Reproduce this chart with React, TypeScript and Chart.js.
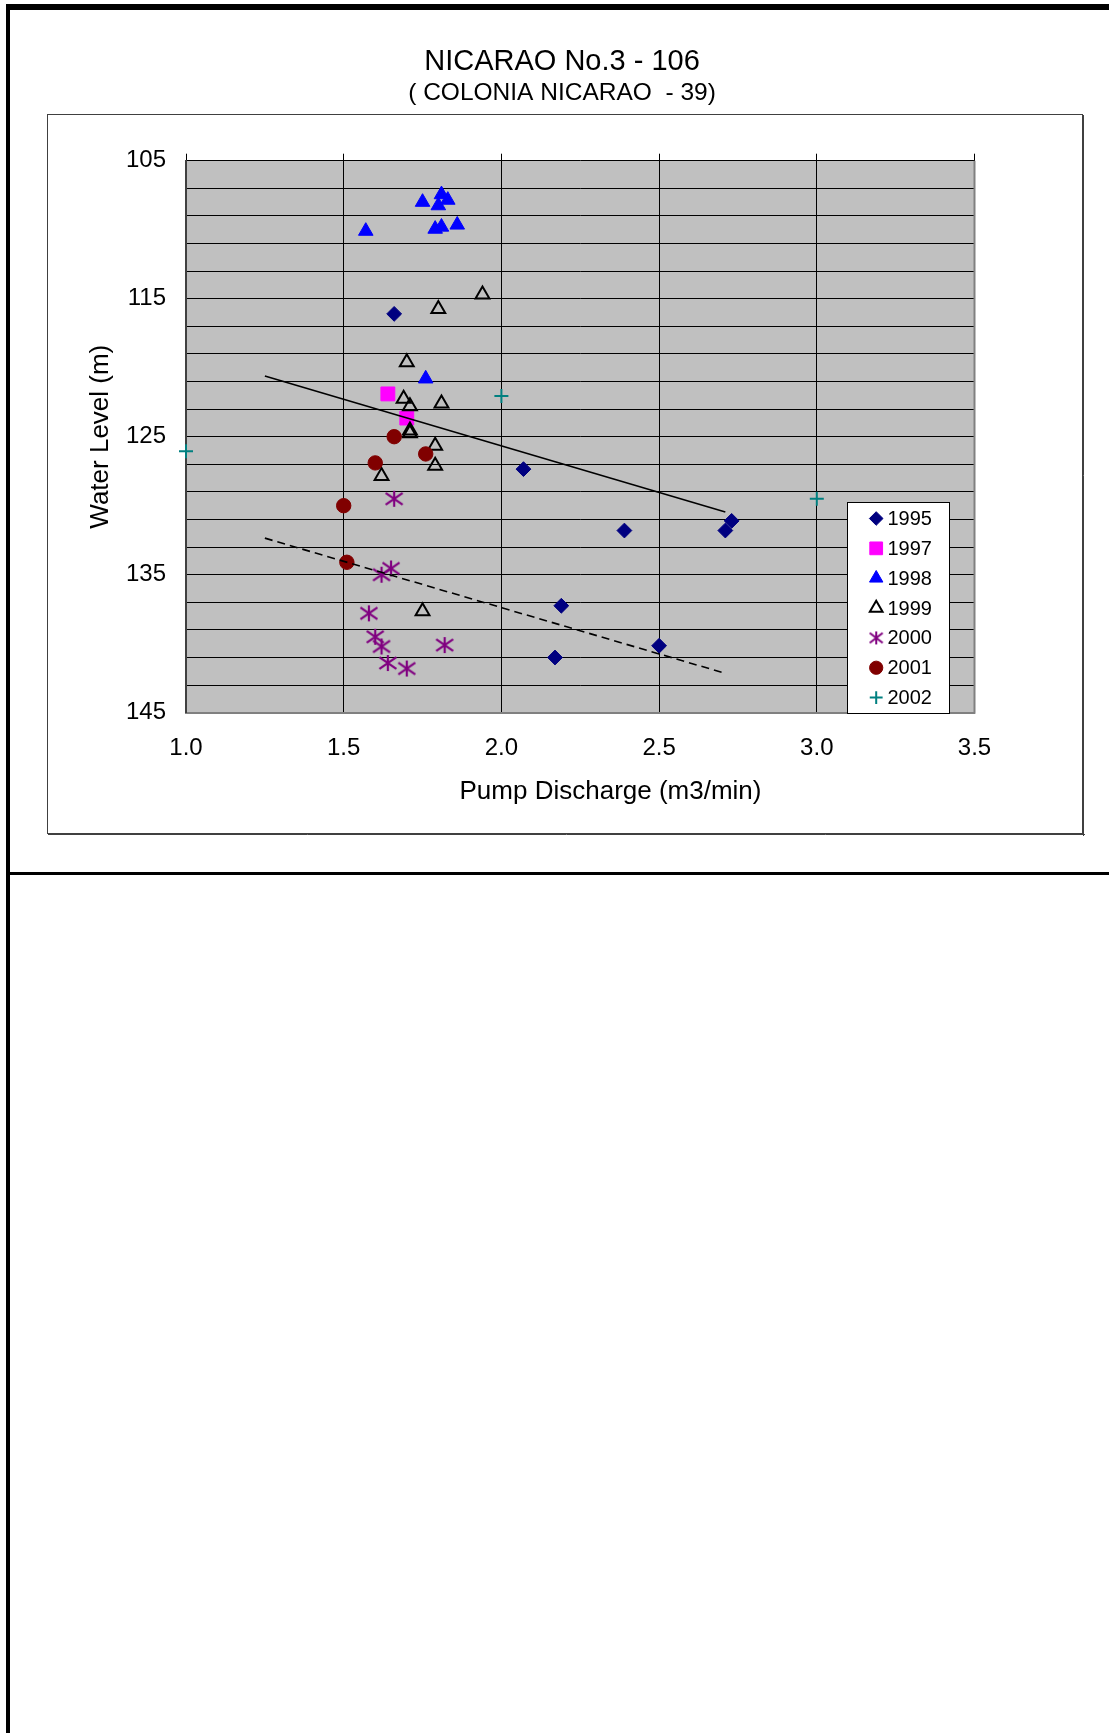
import React, { useEffect, useRef } from 'react';
import { Chart, registerables } from 'chart.js';
import { drawPoint } from 'chart.js/helpers';

Chart.register(...registerables);

const FONT = "'Liberation Sans', Arial, Helvetica, sans-serif";

// ---- texts ----
const TITLE = 'NICARAO No.3 - 106';
const SUBTITLE = '( COLONIA NICARAO  - 39)';
const X_TITLE = 'Pump Discharge (m3/min)';
const Y_TITLE = 'Water Level (m)';

// ---- axes ----
const X_MIN = 1.0;
const X_MAX = 3.5;
const X_STEP = 0.5;
const Y_MIN = 105;
const Y_MAX = 145;
const Y_GRID_STEP = 2;
const Y_TICK_LABELS = [105, 115, 125, 135, 145];

// ---- data: pump discharge (m3/min) and water level (m) ----
const Q1995 = [1.66, 2.07, 2.39, 2.73, 2.71, 2.19, 2.17, 2.5];
const WL1995 = [116.1, 127.35, 131.8, 131.1, 131.8, 137.25, 141.0, 140.15];

const Q1997 = [1.64, 1.7];
const WL1997 = [121.9, 123.65];

const Q1998 = [1.75, 1.81, 1.83, 1.8, 1.57, 1.79, 1.81, 1.86, 1.76];
const WL1998 = [108.0, 107.45, 107.85, 108.25, 110.1, 109.95, 109.8, 109.65, 120.8];

const Q1999 = [1.94, 1.8, 1.7, 1.69, 1.71, 1.81, 1.71, 1.71, 1.79, 1.79, 1.62, 1.75];
const WL1999 = [114.7, 115.75, 119.6, 122.25, 122.8, 122.6, 124.55, 124.75, 125.65, 127.1, 127.85, 137.65];

const Q2000 = [1.66, 1.65, 1.62, 1.58, 1.6, 1.62, 1.82, 1.64, 1.7];
const WL2000 = [129.5, 134.55, 135.0, 137.8, 139.5, 140.2, 140.1, 141.4, 141.8];

const Q2001 = [1.66, 1.76, 1.6, 1.5, 1.51];
const WL2001 = [125.0, 126.25, 126.9, 130.0, 134.1];

const Q2002 = [1.0, 2.0, 3.0];
const WL2002 = [126.05, 122.05, 129.5];

// trend lines (end points)
const TREND_UPPER_Q = [1.25, 2.71];
const TREND_UPPER_WL = [120.6, 130.45];
const TREND_LOWER_Q = [1.25, 2.71];
const TREND_LOWER_WL = [132.35, 142.15];

const toPoints = (xs: number[], ys: number[]) => xs.map((x, i) => ({ x, y: ys[i] }));

function makeAsterisk(color: string, w: number, h: number, lw: number) {
  const c = document.createElement('canvas');
  c.width = w;
  c.height = h;
  const g = c.getContext('2d')!;
  g.strokeStyle = color;
  g.lineWidth = lw;
  g.beginPath();
  g.moveTo(w / 2, 1);
  g.lineTo(w / 2, h - 1);
  g.moveTo(1.5, h * 0.17);
  g.lineTo(w - 1.5, h * 0.83);
  g.moveTo(1.5, h * 0.83);
  g.lineTo(w - 1.5, h * 0.17);
  g.stroke();
  return c;
}

export default function App() {
  const ref = useRef<HTMLCanvasElement>(null);

  useEffect(() => {
    const canvas = ref.current;
    if (!canvas) return;

    const astPlot = makeAsterisk('#800080', 20, 18, 2.2);
    const astLegend = makeAsterisk('#800080', 16, 15, 2);

    const series: any[] = [
      { label: '1995', q: Q1995, wl: WL1995, style: 'rectRot', radius: 7.4, fill: '#000080', stroke: '#000080', bw: 1 },
      { label: '1997', q: Q1997, wl: WL1997, style: 'rect', radius: 9.8, fill: '#FF00FF', stroke: '#FF00FF', bw: 1 },
      { label: '1998', q: Q1998, wl: WL1998, style: 'triangle', radius: 8.4, fill: '#0000FF', stroke: '#0000FF', bw: 1 },
      { label: '1999', q: Q1999, wl: WL1999, style: 'triangle', radius: 8, fill: 'rgba(0,0,0,0)', stroke: '#000000', bw: 2 },
      { label: '2000', q: Q2000, wl: WL2000, style: astPlot, legendStyle: astLegend, radius: 9, fill: '#800080', stroke: '#800080', bw: 2 },
      { label: '2001', q: Q2001, wl: WL2001, style: 'circle', radius: 7.2, fill: '#800000', stroke: '#800000', bw: 1 },
      { label: '2002', q: Q2002, wl: WL2002, style: 'cross', radius: 7, fill: '#008080', stroke: '#008080', bw: 2 },
    ];

    const datasets: any[] = series.map((s, i) => ({
      label: s.label,
      data: toPoints(s.q, s.wl),
      showLine: false,
      pointStyle: s.style,
      pointRadius: s.radius,
      pointBackgroundColor: s.fill,
      pointBorderColor: s.stroke,
      pointBorderWidth: s.bw,
      backgroundColor: s.fill,
      borderColor: s.stroke,
      clip: false,
      order: -i,
    }));

    datasets.push({
      label: 'trend-upper',
      data: toPoints(TREND_UPPER_Q, TREND_UPPER_WL),
      showLine: true,
      borderColor: '#000',
      borderWidth: 1.6,
      pointRadius: 0,
      order: -100,
    });
    datasets.push({
      label: 'trend-lower',
      data: toPoints(TREND_LOWER_Q, TREND_LOWER_WL),
      showLine: true,
      borderColor: '#000',
      borderWidth: 1.6,
      borderDash: [8, 5],
      pointRadius: 0,
      order: -100,
    });

    const BOX_TOP = 94;

    const decor = {
      id: 'decor',
      beforeDraw(chart: any) {
        const { ctx, chartArea: a, width, height } = chart;
        ctx.save();
        ctx.fillStyle = '#fff';
        ctx.fillRect(0, BOX_TOP, width, height - BOX_TOP);
        ctx.strokeStyle = '#404040';
        ctx.lineWidth = 1;
        ctx.strokeRect(0.5, BOX_TOP + 0.5, width - 3, height - BOX_TOP - 3);
        ctx.beginPath();
        ctx.moveTo(width - 1.5, BOX_TOP + 1);
        ctx.lineTo(width - 1.5, height);
        ctx.moveTo(1, height - 1.5);
        ctx.lineTo(width, height - 1.5);
        ctx.stroke();
        ctx.fillStyle = '#C0C0C0';
        ctx.fillRect(a.left, a.top, a.right - a.left, a.bottom - a.top);
        ctx.restore();
      },
      afterDraw(chart: any) {
        const { ctx, chartArea: a } = chart;
        ctx.save();
        // right plot border
        ctx.strokeStyle = '#808080';
        ctx.lineWidth = 2;
        ctx.beginPath();
        ctx.moveTo(a.right, a.top);
        ctx.lineTo(a.right, a.bottom + 1);
        ctx.stroke();

        // axis titles
        ctx.fillStyle = '#000';
        ctx.font = `26px ${FONT}`;
        ctx.textAlign = 'center';
        ctx.textBaseline = 'middle';
        ctx.fillText(X_TITLE, a.left + 424.5, a.bottom + 79);
        ctx.save();
        ctx.translate(a.left - 85.4, (a.top + a.bottom) / 2);
        ctx.rotate(-Math.PI / 2);
        ctx.fillText(Y_TITLE, 0, 0);
        ctx.restore();

        // legend
        const lw = 102;
        const lh = 211;
        const lx = Math.round(a.right - 127.2) + 0.5;
        const ly = Math.round(a.bottom - lh) + 0.5;
        ctx.fillStyle = '#fff';
        ctx.fillRect(lx, ly, lw, lh);
        ctx.strokeStyle = '#000';
        ctx.lineWidth = 1;
        ctx.strokeRect(lx, ly, lw, lh);
        series.forEach((s, i) => {
          const my = ly + 16 + i * 29.85;
          const mx = lx + 28.7;
          ctx.fillStyle = s.fill;
          ctx.strokeStyle = s.stroke;
          ctx.lineWidth = s.bw;
          drawPoint(ctx, {
            pointStyle: s.legendStyle || s.style,
            radius: s.radius * 0.92,
            borderWidth: s.bw,
            rotation: 0,
          } as any, mx, my);
          ctx.fillStyle = '#000';
          ctx.font = `20px ${FONT}`;
          ctx.textAlign = 'left';
          ctx.textBaseline = 'middle';
          ctx.fillText(s.label, lx + 40, my + 1);
        });
        ctx.restore();
      },
    };

    const chart = new Chart(canvas, {
      type: 'scatter',
      data: { datasets },
      plugins: [decor],
      options: {
        responsive: false,
        animation: false,
        events: [],
        devicePixelRatio: 1,
        layout: { padding: { left: 0, right: 8, top: 0, bottom: 0 } },
        plugins: {
          legend: { display: false },
          tooltip: { enabled: false },
          title: {
            display: true,
            text: TITLE,
            color: '#000',
            font: { family: FONT, size: 29, weight: 'normal', lineHeight: 1.2 },
            padding: { top: 25, bottom: -1 },
          },
          subtitle: {
            display: true,
            text: SUBTITLE,
            color: '#000',
            font: { family: FONT, size: 24.5, weight: 'normal', lineHeight: 1.2 },
            padding: { top: 0, bottom: 0 },
          },
        },
        scales: {
          x: {
            type: 'linear',
            position: 'bottom',
            min: X_MIN,
            max: X_MAX,
            ticks: {
              stepSize: X_STEP,
              autoSkip: false,
              maxRotation: 0,
              padding: 20.9,
              color: '#000',
              font: { family: FONT, size: 24 },
              callback: (v: any) => Number(v).toFixed(1),
            },
            grid: { color: '#000', lineWidth: 1, drawTicks: false },
            border: { display: true, color: '#808080', width: 2 },
            afterFit: (s: any) => { s.height = 123.3; },
          },
          x2: {
            type: 'linear',
            axis: 'x',
            position: 'top',
            min: X_MIN,
            max: X_MAX,
            ticks: { display: false, stepSize: X_STEP },
            grid: { drawOnChartArea: false, drawTicks: true, tickLength: 7, color: '#000' },
            border: { display: false },
            afterFit: (s: any) => { s.height = 52.5; },
          },
          y: {
            type: 'linear',
            position: 'left',
            reverse: true,
            min: Y_MIN,
            max: Y_MAX,
            ticks: {
              stepSize: Y_GRID_STEP,
              autoSkip: false,
              padding: 20,
              color: '#000',
              font: { family: FONT, size: 24 },
              callback: (v: any) => (Y_TICK_LABELS.includes(Number(v)) ? String(v) : ''),
            },
            grid: { color: '#000', lineWidth: 1, drawTicks: false },
            border: { display: true, color: '#404040', width: 2 },
            afterFit: (s: any) => { s.width = 139; },
          },
          yRightSpace: {
            type: 'linear',
            axis: 'y',
            position: 'right',
            min: Y_MIN,
            max: Y_MAX,
            ticks: { display: false },
            grid: { drawOnChartArea: false, drawTicks: false },
            border: { display: false },
            afterFit: (s: any) => { s.width = 102.5; },
          },
        },
      } as any,
    });

    return () => chart.destroy();
  }, []);

  return (
    <div style={{ position: 'absolute', left: 0, top: 0, width: 1109, height: 1733, background: '#fff' }}>
      <div style={{ position: 'absolute', left: 6, top: 4, width: 1103, height: 6, background: '#000' }} />
      <div style={{ position: 'absolute', left: 6, top: 4, width: 4, height: 1729, background: '#000' }} />
      <div style={{ position: 'absolute', left: 6, top: 872, width: 1103, height: 3, background: '#000' }} />
      <canvas
        ref={ref}
        width={1038}
        height={816}
        style={{ position: 'absolute', left: 47, top: 20, width: 1038, height: 816 }}
      />
    </div>
  );
}
